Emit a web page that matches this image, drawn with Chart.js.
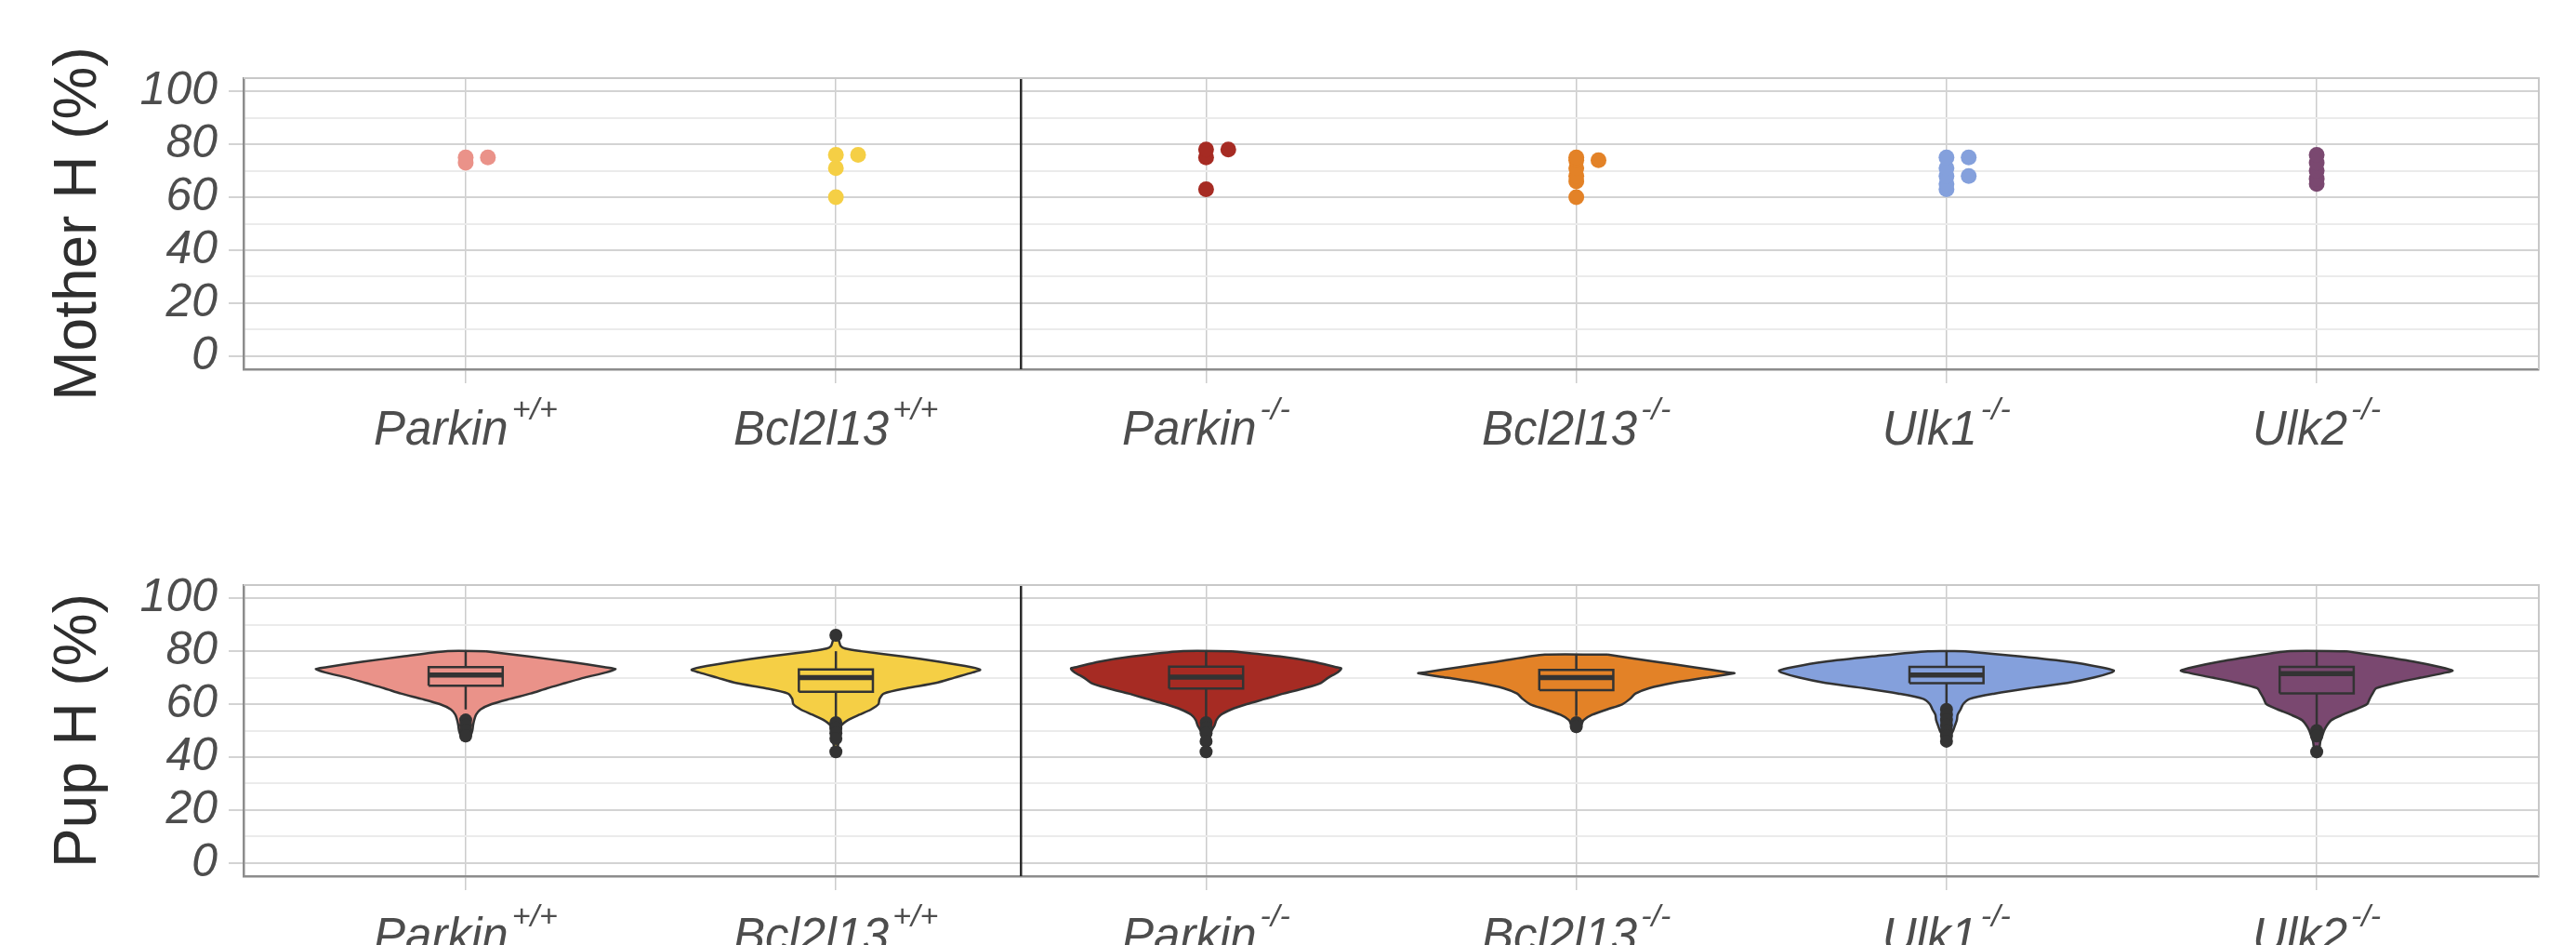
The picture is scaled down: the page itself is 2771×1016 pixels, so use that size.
<!DOCTYPE html>
<html><head><meta charset="utf-8">
<script src="https://cdn.jsdelivr.net/npm/chart.js@4.4.1/dist/chart.umd.min.js"></script>
<style>
html,body{margin:0;padding:0;background:#fff;width:2771px;height:1016px;overflow:hidden}
.panel{position:absolute;left:0;width:2771px;height:508px}
</style></head><body>
<div class="panel" style="top:0"><canvas id="c1" width="2771" height="508"></canvas></div>
<div class="panel" style="top:508px"><canvas id="c2" width="2771" height="508"></canvas></div>
<script>
// ---------- data ----------
const categories = ['Parkin', 'Bcl2l13', 'Parkin', 'Bcl2l13', 'Ulk1', 'Ulk2'];
const genotypes  = ['+/+', '+/+', '-/-', '-/-', '-/-', '-/-'];
const groupColors = ['#EA9289', '#F5CF45', '#A62B23', '#E38227', '#84A0DC', '#7A4870'];
const yTicks = [0, 20, 40, 60, 80, 100];
const yTickLabels = ['0', '20', '40', '60', '80', '100'];
const yMinor = [10, 30, 50, 70, 90];
const titles = ['Mother H (%)', 'Pup H (%)'];

// Mother heteroplasmy (one value per mother)
const motherParkinWT  = [73, 75, 75];
const motherBcl2l13WT = [60, 71, 76, 76];
const motherParkinKO  = [63, 75, 78, 78];
const motherBcl2l13KO = [60, 66, 68, 71, 74, 74, 75];
const motherUlk1KO    = [63, 65, 68, 68, 71, 75, 75];
const motherUlk2KO    = [65, 67, 70, 73, 76];

// Pup violin outlines: heteroplasmy levels and half-width (fraction of category spacing)
const pupParkinWTLevels  = [80, 78, 76, 74, 73.3, 72, 70, 68, 66, 64, 62, 60, 58, 56, 54, 52, 50, 48, 46];
const pupParkinWTWidths  = [.055, .17, .28, .375, .405, .38, .32, .27, .22, .175, .12, .07, .04, .028, .023, .02, .018, .013, 0];
const pupBcl2l13WTLevels = [86, 84, 82, 81, 80, 78, 76, 74, 73, 72, 70, 68, 66, 64, 62, 60, 58, 56, 54, 52, 50, 48, 46, 44, 42];
const pupBcl2l13WTWidths = [0, .008, .013, .025, .068, .18, .28, .365, .39, .37, .32, .27, .19, .13, .118, .115, .095, .063, .033, .015, .013, .01, .008, .005, 0];
const pupParkinKOLevels  = [80, 78, 76, 74, 73.5, 72, 70, 68, 66, 64, 62, 60, 58, 56, 54, 52, 50, 48, 46, 44, 42];
const pupParkinKOWidths  = [.07, .2, .29, .35, .365, .355, .33, .31, .265, .21, .16, .11, .068, .04, .028, .023, .015, .01, .008, .005, 0];
const pupBcl2l13KOLevels = [78.7, 76, 74, 72, 71.7, 70, 68, 66, 64, 62, 60, 58, 56, 54, 52, 50, 49.5];
const pupBcl2l13KOWidths = [.085, .215, .315, .41, .427, .35, .26, .196, .16, .145, .125, .083, .043, .02, .013, .005, 0];
const pupUlk1KOLevels    = [80, 78, 76, 74, 72.7, 72, 70, 68, 66, 64, 62, 60, 58, 56, 54, 52, 50, 48, 46, 45];
const pupUlk1KOWidths    = [.05, .2, .33, .415, .452, .447, .397, .327, .221, .13, .063, .045, .038, .03, .028, .023, .018, .01, .005, 0];
const pupUlk2KOLevels    = [80, 78, 76, 74, 72.7, 72, 70, 68, 66, 64, 62, 60, 58, 56, 54, 52, 50, 48, 46, 44, 42, 40];
const pupUlk2KOWidths    = [.08, .176, .264, .334, .367, .352, .281, .213, .161, .151, .143, .136, .105, .07, .04, .028, .02, .015, .01, .008, .005, 0];

// Pup boxplot stats: [lower whisker, Q1, median, Q3, upper whisker]
const pupParkinWTBox  = [58, 67, 71, 74, 80];
const pupBcl2l13WTBox = [55, 64.7, 70, 73.1, 80];
const pupParkinKOBox  = [54, 65.9, 70.2, 74.2, 80];
const pupBcl2l13KOBox = [55.5, 65.3, 70, 72.9, 78.7];
const pupUlk1KOBox    = [59, 67.9, 71, 74.1, 80];
const pupUlk2KOBox    = [51, 64.1, 71.5, 74.1, 80];

// Pup outliers
const pupParkinWTOut  = [54, 52, 50, 48];
const pupBcl2l13WTOut = [86, 53, 51, 49, 47, 42];
const pupParkinKOOut  = [53, 51, 49, 46, 42];
const pupBcl2l13KOOut = [53, 51.5];
const pupUlk1KOOut    = [58, 56, 54, 52, 50, 48, 46];
const pupUlk2KOOut    = [50, 48, 42];

// ---------- build ----------
const FONT = '"Liberation Sans", Arial, Helvetica, sans-serif';
const INK = '#333333';
const separatorAt = 2.5;
const boxHalf = 0.1;
const dupStep = 0.06;

const motherGroups = [motherParkinWT, motherBcl2l13WT, motherParkinKO, motherBcl2l13KO, motherUlk1KO, motherUlk2KO];
const pupLevels = [pupParkinWTLevels, pupBcl2l13WTLevels, pupParkinKOLevels, pupBcl2l13KOLevels, pupUlk1KOLevels, pupUlk2KOLevels];
const pupWidths = [pupParkinWTWidths, pupBcl2l13WTWidths, pupParkinKOWidths, pupBcl2l13KOWidths, pupUlk1KOWidths, pupUlk2KOWidths];
const pupBoxes = [pupParkinWTBox, pupBcl2l13WTBox, pupParkinKOBox, pupBcl2l13KOBox, pupUlk1KOBox, pupUlk2KOBox];
const pupOutliers = [pupParkinWTOut, pupBcl2l13WTOut, pupParkinKOOut, pupBcl2l13KOOut, pupUlk1KOOut, pupUlk2KOOut];

Chart.defaults.font.family = FONT;

const decor = {
  id: 'decor',
  afterDraw(chart, args, opts) {
    const {ctx, chartArea: a, scales: {x}} = chart;
    ctx.save();
    // top & right panel border
    ctx.strokeStyle = '#C8C8C8'; ctx.lineWidth = 2;
    ctx.beginPath(); ctx.moveTo(a.left, a.top); ctx.lineTo(a.right, a.top); ctx.lineTo(a.right, a.bottom); ctx.stroke();
    // x category labels with superscript genotype
    ctx.fillStyle = '#4D4D4D'; ctx.textBaseline = 'alphabetic'; ctx.textAlign = 'left';
    const by = a.bottom + 81;
    categories.forEach((c, i) => {
      const px = x.getPixelForValue(i + 1);
      ctx.font = 'italic 51px ' + FONT; const wb = ctx.measureText(c).width;
      ctx.font = 'italic 34px ' + FONT; const ws = ctx.measureText(genotypes[i]).width;
      const gap = 4;
      const sx = px - (wb + gap + ws) / 2;
      ctx.font = 'italic 51px ' + FONT; ctx.fillText(c, sx, by);
      ctx.font = 'italic 34px ' + FONT; ctx.fillText(genotypes[i], sx + wb + gap, by - 27);
    });
    // y axis title
    ctx.translate(103, (a.top + a.bottom) / 2);
    ctx.rotate(-Math.PI / 2);
    ctx.font = '64px ' + FONT; ctx.fillStyle = '#2E2E2E'; ctx.textAlign = 'center';
    ctx.fillText(opts.title, 0, 0);
    ctx.restore();
  }
};

const allY = yTicks.concat(yMinor).sort((p, q) => p - q);

function makeOptions(padTop, xHeight, title) {
  return {
    responsive: false, animation: false, devicePixelRatio: 1, events: [],
    layout: { padding: { top: padTop, right: 40, left: 0, bottom: 0 } },
    plugins: { legend: { display: false }, tooltip: { enabled: false }, decor: { title } },
    scales: {
      x: {
        type: 'linear', min: 0.4, max: 6.6,
        afterBuildTicks: s => { s.ticks = categories.map((c, i) => ({ value: i + 1 })); },
        afterFit: s => { s.height = xHeight; },
        ticks: { display: false },
        grid: { color: '#CCCCCC', lineWidth: 1.5, tickLength: 15, tickColor: '#CCCCCC', tickWidth: 1.5 },
        border: { display: true, color: '#8C8C8C', width: 2.5 }
      },
      y: {
        type: 'linear', min: -5, max: 105,
        afterBuildTicks: s => { s.ticks = allY.map(v => ({ value: v })); },
        afterFit: s => { s.width = 262; },
        ticks: {
          autoSkip: false, padding: 12, color: '#4D4D4D',
          font: { size: 50, style: 'italic', family: FONT },
          callback: v => { const k = yTicks.indexOf(v); return k >= 0 ? yTickLabels[k] : ''; }
        },
        grid: {
          lineWidth: 2, tickLength: 16, tickWidth: 2,
          color: c => yTicks.includes(c.tick.value) ? '#D3D3D3' : '#EBEBEB',
          tickColor: c => yTicks.includes(c.tick.value) ? '#D3D3D3' : 'rgba(0,0,0,0)'
        },
        border: { display: true, color: '#8C8C8C', width: 2.5 }
      }
    }
  };
}

function separatorDataset() {
  return { data: [{ x: separatorAt, y: -5 }, { x: separatorAt, y: 105 }], showLine: true,
    borderColor: '#2A2A2A', borderWidth: 2.5, pointRadius: 0, order: 5 };
}

// ---- Mother chart ----
const motherDatasets = [separatorDataset()];
motherGroups.forEach((vals, i) => {
  const seen = {};
  const pts = vals.map(v => {
    const k = seen[v] || 0; seen[v] = k + 1;
    return { x: i + 1 + k * dupStep, y: v };
  });
  motherDatasets.push({ data: pts, pointRadius: 8.5, pointBackgroundColor: groupColors[i],
    pointBorderWidth: 0, showLine: false, order: 1 });
});

new Chart(document.getElementById('c1'), {
  type: 'scatter',
  data: { datasets: motherDatasets },
  options: makeOptions(84, 111, titles[0]),
  plugins: [decor]
});

// ---- Pup chart ----
const pupDatasets = [separatorDataset()];
pupLevels.forEach((lev, i) => {
  const c = i + 1, w = pupWidths[i];
  const right = lev.map((v, j) => ({ x: c + w[j], y: v }));
  const left = lev.map((v, j) => ({ x: c - w[j], y: v })).reverse();
  const outline = right.concat(left, [right[0]]);
  pupDatasets.push({ data: outline, showLine: true, fill: 'shape', backgroundColor: groupColors[i],
    borderColor: INK, borderWidth: 2.5, pointRadius: 0, tension: 0.25, borderJoinStyle: 'round', order: 4 });
  const b = pupBoxes[i];
  pupDatasets.push({ data: [{ x: c - boxHalf, y: b[1] }, { x: c + boxHalf, y: b[1] }, { x: c + boxHalf, y: b[3] },
      { x: c - boxHalf, y: b[3] }, { x: c - boxHalf, y: b[1] }],
    showLine: true, fill: false, borderColor: INK, borderWidth: 2.5, pointRadius: 0, tension: 0, order: 3 });
  pupDatasets.push({ data: [{ x: c, y: b[3] }, { x: c, y: b[4] }], showLine: true, borderColor: INK,
    borderWidth: 2.5, pointRadius: 0, order: 3 });
  pupDatasets.push({ data: [{ x: c, y: b[1] }, { x: c, y: b[0] }], showLine: true, borderColor: INK,
    borderWidth: 2.5, pointRadius: 0, order: 3 });
  pupDatasets.push({ data: [{ x: c - boxHalf, y: b[2] }, { x: c + boxHalf, y: b[2] }], showLine: true,
    borderColor: INK, borderWidth: 5.5, pointRadius: 0, order: 2 });
  pupDatasets.push({ data: pupOutliers[i].map(v => ({ x: c, y: v })), showLine: false, pointRadius: 7,
    pointBackgroundColor: INK, pointBorderWidth: 0, order: 1 });
});

new Chart(document.getElementById('c2'), {
  type: 'scatter',
  data: { datasets: pupDatasets },
  options: makeOptions(121, 74, titles[1]),
  plugins: [decor]
});
</script>
</body></html>
